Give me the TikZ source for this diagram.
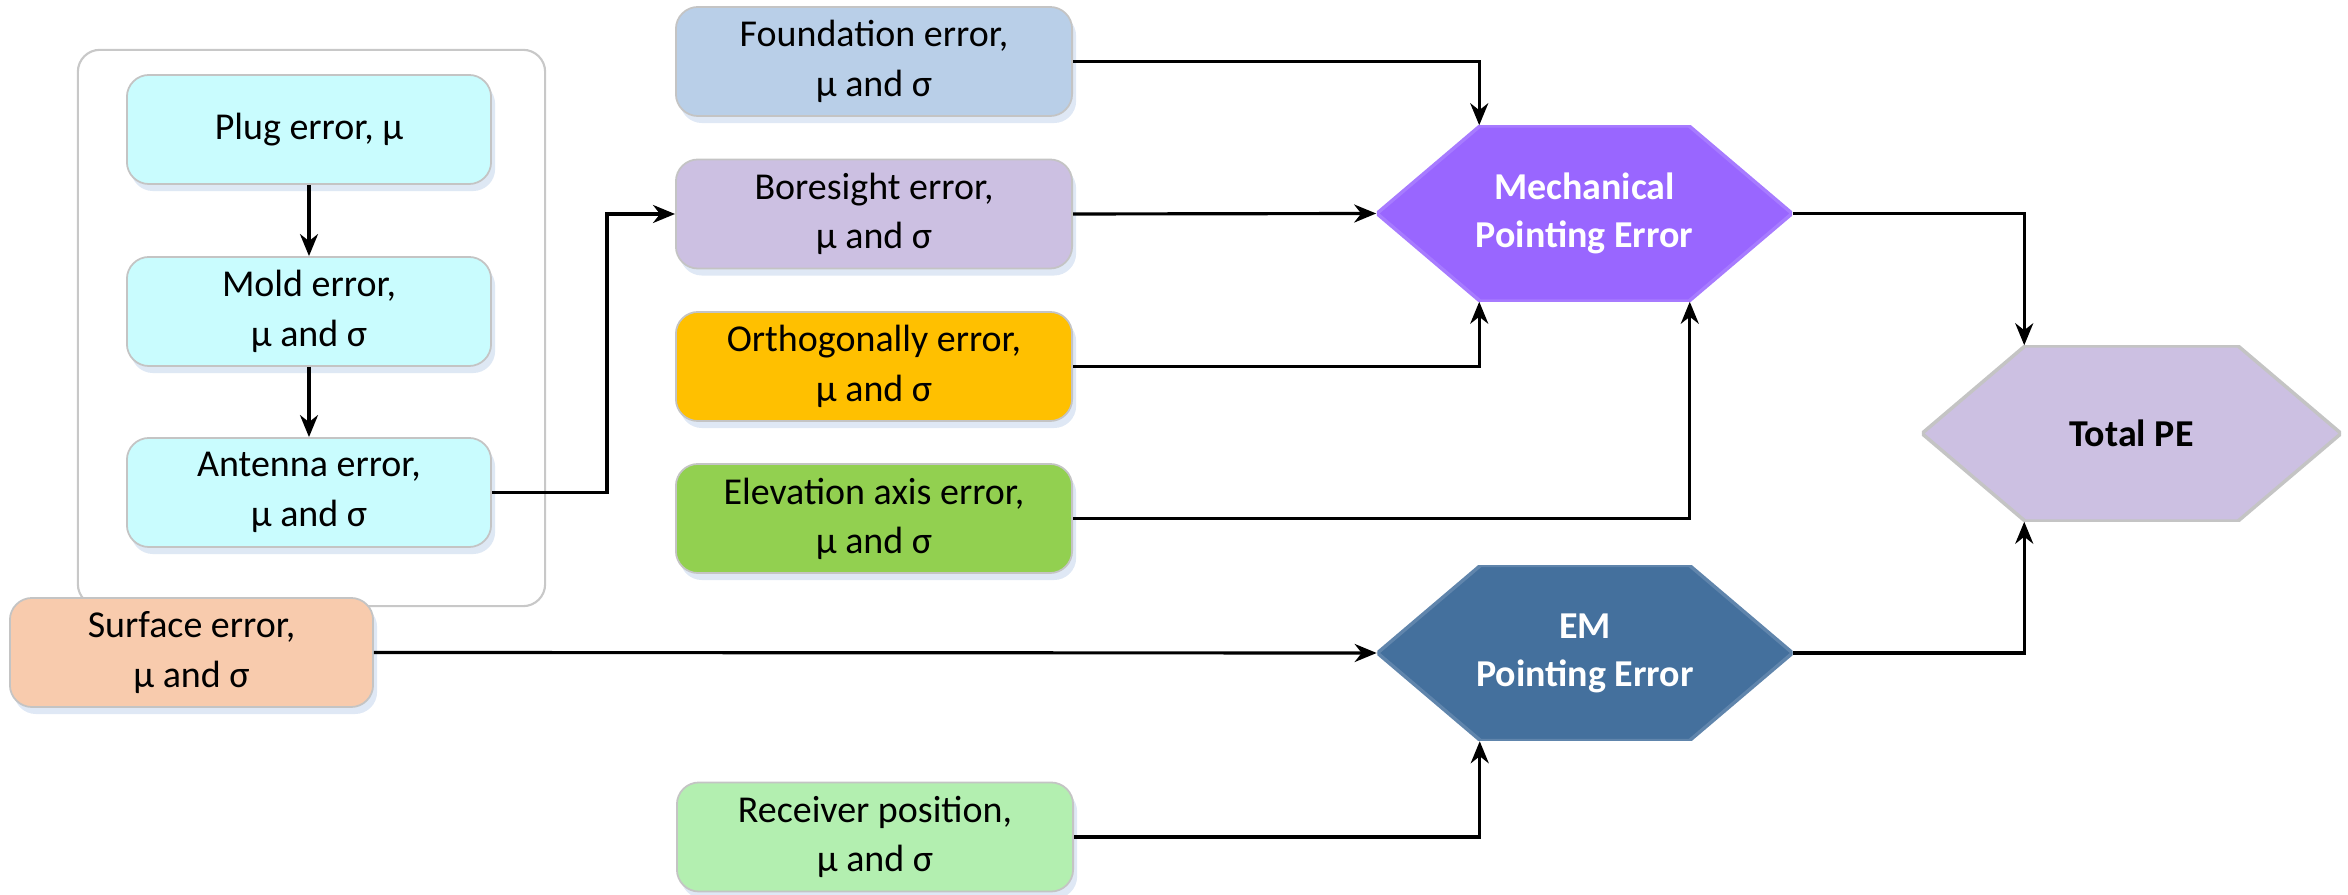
\documentclass[tikz,border=0pt]{standalone}
\usepackage{fontspec}
\setmainfont{Carlito}
\usetikzlibrary{arrows.meta,calc,shadows}
\definecolor{cyanbox}{HTML}{C9FCFE}
\definecolor{foundc}{HTML}{B9CFE8}
\definecolor{borec}{HTML}{CCC0E2}
\definecolor{orthc}{HTML}{FFC000}
\definecolor{elevc}{HTML}{92D050}
\definecolor{surfc}{HTML}{F8CBAD}
\definecolor{recvc}{HTML}{B3EFB0}
\definecolor{mechc}{HTML}{9966FF}
\definecolor{mechl}{HTML}{A77BFF}
\definecolor{emc}{HTML}{44709D}
\definecolor{totc}{HTML}{CCC0E2}
\definecolor{boxline}{HTML}{C4C4C4}
\definecolor{grpline}{HTML}{C8C8C8}
\definecolor{shadowc}{HTML}{C9D9EE}
\begin{document}
\begin{tikzpicture}[x=0.01cm,y=-0.01cm,
  txt/.style={font=\fontsize{10.8}{14}\selectfont},
  box/.style={txt, draw=boxline, line width=0.5pt, rounded corners=2.2mm,
    minimum width=#1, minimum height=1.09cm, align=center, inner sep=0pt,
    drop shadow={shadow xshift=0.4mm,shadow yshift=-0.7mm,fill=shadowc,opacity=0.6}},
  box/.default=3.64cm,
  conn/.style={line width=0.9pt, -{Stealth[length=2.2mm,width=1.8mm,inset=0.7mm]}},
  hexa/.style 2 args={txt, minimum width=#1, minimum height=1.75cm, inner sep=0pt, align=center,
    path picture={\filldraw[#2, line width=1pt]
      (path picture bounding box.west)
      -- ($(path picture bounding box.north west)+(1.03cm,0)$)
      -- ($(path picture bounding box.north east)+(-1.03cm,0)$)
      -- (path picture bounding box.east)
      -- ($(path picture bounding box.south east)+(-1.03cm,0)$)
      -- ($(path picture bounding box.south west)+(1.03cm,0)$) -- cycle;}},
  grp/.style={draw=grpline, line width=0.6pt, rounded corners=2.2mm, fill=white}
]
\useasboundingbox (0,0) rectangle (2348,895);

% group container
\node[grp, minimum width=4.67cm, minimum height=5.56cm, inner sep=0pt] (group) at (311.5,328) {};

% left column
\node[box, fill=cyanbox] (plug) at (309,129.5) {Plug error, μ};
\node[box, fill=cyanbox] (mold) at (309,311.5) {Mold error,\\μ and σ};
\node[box, fill=cyanbox] (ant) at (309,492.5) {Antenna error,\\μ and σ};
\node[box=3.63cm, fill=surfc] (surf) at (191.5,652.5) {Surface error,\\μ and σ};

% right column
\node[box=3.96cm, fill=foundc] (found) at (874,61.5) {Foundation error,\\μ and σ};
\node[box=3.96cm, fill=borec] (bore) at (874,214) {Boresight error,\\μ and σ};
\node[box=3.96cm, fill=orthc] (orth) at (874,366.5) {Orthogonally error,\\μ and σ};
\node[box=3.96cm, fill=elevc] (elev) at (874,518.5) {Elevation axis error,\\μ and σ};
\node[box=3.96cm, fill=recvc] (recv) at (875,837) {Receiver position,\\μ and σ};

% hexagons
\node[hexa={4.15cm}{fill=mechc, draw=mechl}, text=white, font=\fontsize{10.8}{13.6}\selectfont\bfseries] (mech) at (1584.5,213.5) {Mechanical\\Pointing Error};
\node[hexa={4.15cm}{fill=emc, draw=emc!85!white}, text=white, font=\fontsize{10.8}{13.6}\selectfont\bfseries] (em) at (1585,653) {EM\\Pointing Error};
\node[hexa={4.19cm}{fill=totc, draw=boxline}, font=\fontsize{10.8}{13.6}\selectfont\bfseries] (tot) at (2131.5,433.5) {Total PE};

\coordinate (mechTL) at ($(mech.north west)+(1.03cm,0)$);
\coordinate (mechBL) at ($(mech.south west)+(1.03cm,0)$);
\coordinate (mechBR) at ($(mech.south east)+(-1.03cm,0)$);
\coordinate (emBL) at ($(em.south west)+(1.03cm,0)$);
\coordinate (totTL) at ($(tot.north west)+(1.03cm,0)$);
\coordinate (totBL) at ($(tot.south west)+(1.03cm,0)$);

% connectors
\draw[conn] (plug.south) -- (mold.north);
\draw[conn] (mold.south) -- (ant.north);
\draw[conn] (ant.east) -- ++(1.15cm,0) |- (bore.west);
\draw[conn] (found.east) -| (mechTL);
\draw[conn] (bore.east) -- (mech.west);
\draw[conn] (orth.east) -| (mechBL);
\draw[conn] (elev.east) -| (mechBR);
\draw[conn] (surf.east) -- (em.west);
\draw[conn] (recv.east) -| (emBL);
\draw[conn] (mech.east) -| (totTL);
\draw[conn] (em.east) -| (totBL);
\end{tikzpicture}
\end{document}
